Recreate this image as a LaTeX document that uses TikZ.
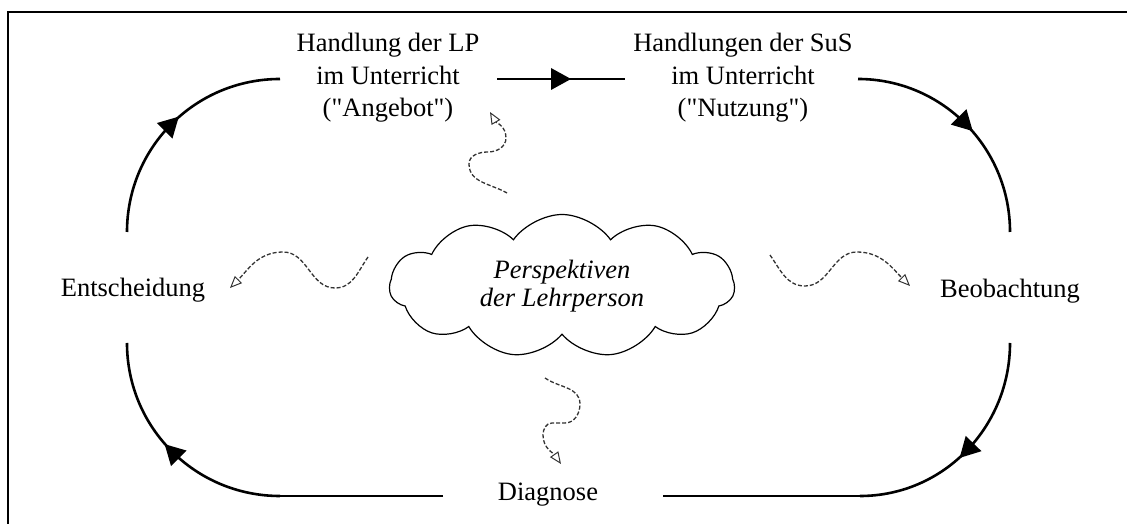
\documentclass[tikz,border=0pt]{standalone}
\usepackage{fontspec}
\setmainfont{Liberation Serif}[Ligatures=TeXOff]
\usetikzlibrary{arrows.meta,decorations.markings,shapes.symbols}
\begin{document}
\begin{tikzpicture}[x=1pt,y=1pt,
  lbl/.style={inner sep=0pt, font=\fontsize{26.5}{32.5}\selectfont, align=center},
  loopline/.style={line width=2.6pt},
  midarrow/.style={postaction={decorate}, decoration={markings, mark=at position 0.5 with {\fill (10pt,0pt) -- (-10pt,11pt) -- (-10pt,-11pt) -- cycle;}}},
  squig/.style={dash pattern=on 4pt off 2pt, line width=1.3pt, black!80, -{Triangle[open, length=12pt, width=10pt, line width=1pt, fill=white]}},
  cloudbox/.style={cloud, draw, line width=1.2pt, cloud puffs=11, cloud puff arc=110, cloud ignores aspect, minimum width=345pt, minimum height=143pt, inner sep=0pt, align=center, font=\fontsize{26.5}{28}\selectfont\itshape},
]
\useasboundingbox (0,0) rectangle (1127,524);
% frame
\draw[line width=2.5pt] (8,0) -- (8,512) -- (1127,512);

% labels
\node[lbl] (lp) at (388,446) {Handlung der LP\\im Unterricht\\("Angebot")};
\node[lbl] (sus) at (743,446) {Handlungen der SuS\\im Unterricht\\("Nutzung")};
\node[lbl, anchor=base] (ent) at (133,227) {Entscheidung};
\node[lbl, anchor=base] (beo) at (1010,226) {Beobachtung};
\node[lbl, anchor=base] (dia) at (548,23) {Diagnose};
\node[cloudbox] (cl) at (562,238) {Perspektiven\\der Lehrperson};

% loop coordinates
\coordinate (t1) at (280,445);
\coordinate (l1) at (127,292);
\coordinate (l2) at (127,181);
\coordinate (b1) at (280,28);
\coordinate (b2) at (443,28);
\coordinate (ta1) at (497,445);
\coordinate (ta2) at (625,445);
\coordinate (t2) at (858,445);
\coordinate (r1) at (1010,292);
\coordinate (r2) at (1010,181);
\coordinate (b3) at (860,28);
\coordinate (b4) at (663,28);

\draw[loopline, midarrow] (l1) to[out=90,in=180] (t1);
\draw[loopline, midarrow] (ta1) -- (ta2);
\draw[loopline, midarrow] (t2) to[out=0,in=90] (r1);
\draw[loopline, midarrow] (r2) to[out=-90,in=0] (b3);
\draw[loopline] (b3) -- (b4);
\draw[loopline] (b2) -- (b1);
\draw[loopline, midarrow] (b1) to[out=180,in=-90] (l2);

% squiggly dashed arrows
\coordinate (s1a) at (507,331);
\coordinate (s1b) at (490,412);
\draw[squig] (s1a) to[out=150,in=-90] (469,360) to[out=90,in=180] (488,372) to[out=0,in=-90] (506,386) to[out=90,in=-60] (s1b);

\coordinate (s2a) at (368,267);
\coordinate (s2b) at (230,236);
\draw[squig] (s2a) to[out=-125,in=0] (335,236) to[out=180,in=0] (283,272) to[out=180,in=45] (s2b);

\coordinate (s3a) at (770,269);
\coordinate (s3b) at (910,238);
\draw[squig] (s3a) to[out=-55,in=180] (805,238) to[out=0,in=180] (857,272) to[out=0,in=135] (s3b);

\coordinate (s4a) at (545,146);
\coordinate (s4b) at (561,60);
\draw[squig] (s4a) to[out=-35,in=90] (580,120) to[out=-90,in=0] (565,101) -- (552,101) to[out=180,in=90] (543,89) to[out=-90,in=125] (s4b);
\end{tikzpicture}
\end{document}
